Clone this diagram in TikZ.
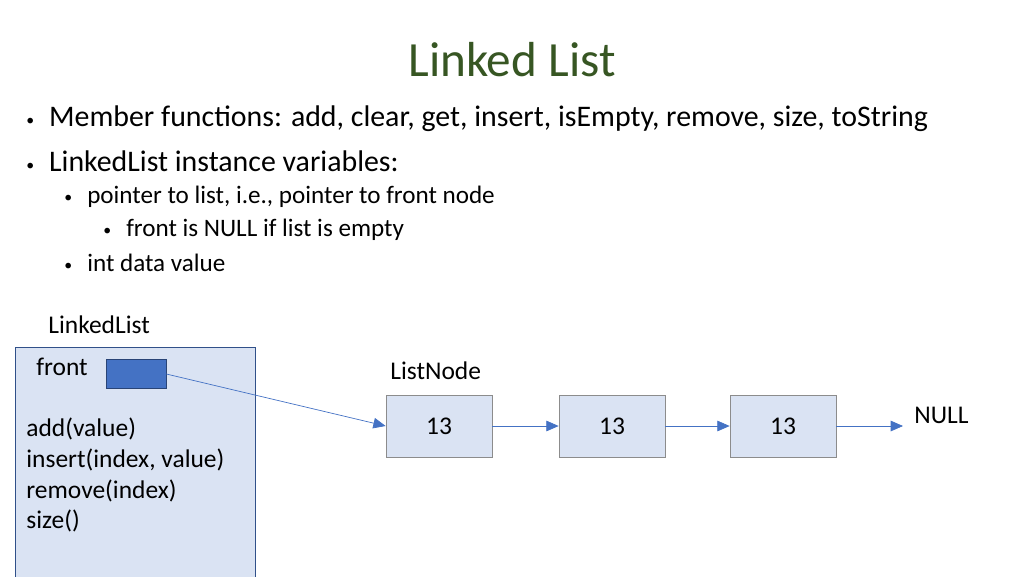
\documentclass[tikz,border=0pt]{standalone}
\usepackage{fontspec}
\setmainfont{Carlito}
\usetikzlibrary{arrows.meta,positioning}
\definecolor{titlegreen}{HTML}{375623}
\definecolor{boxfill}{HTML}{DAE3F3}
\definecolor{linkblue}{HTML}{4472C4}
\newcommand{\blt}{{\fontsize{9}{9}\selectfont\raisebox{0.15ex}{\textbullet}}}
\tikzset{
    >={Triangle[length=7pt,width=6pt]},
    txt/.style={anchor=west,inner sep=0pt,font=\fontsize{14.5}{17}\selectfont},
    big/.style={anchor=west,inner sep=0pt,font=\fontsize{17}{20}\selectfont},
    small/.style={anchor=west,inner sep=0pt,font=\fontsize{14.3}{17}\selectfont},
    listnode/.style={draw=black!45,fill=boxfill,minimum width=2.12cm,minimum height=1.24cm,inner sep=0pt,font=\fontsize{14.5}{17}\selectfont},
    link/.style={->,draw=linkblue,thin},
}
\begin{document}
\begin{tikzpicture}[x=0.02cm,y=-0.02cm]
    \useasboundingbox (0,0) rectangle (1024,576);
    \node[titlegreen,font=\fontsize{28}{33}\selectfont] (title) at (512,60) {Linked List};

    \node[big] (b1) at (26,119) {\blt\hspace{0.5em}Member functions: add, clear, get, insert, isEmpty, remove, size, toString};
    \node[big] (b2) at (26,161) {\blt\hspace{0.5em}LinkedList instance variables:};
    \node[small] (s1) at (64,197) {\blt\hspace{0.6em}pointer to list, i.e., pointer to front node};
    \node[small] (s2) at (103,230) {\blt\hspace{0.6em}front is NULL if list is empty};
    \node[small] (s3) at (64,263) {\blt\hspace{0.6em}int data value};

    \node[txt] (lllabel) at (48,325) {LinkedList};
    \draw[draw=linkblue!70!black,fill=boxfill] (15,347) rectangle (255,580);
    \node[txt] (front) at (36,367) {front};
    \node[draw=linkblue!60!black,fill=linkblue,minimum width=1.2cm,minimum height=0.58cm,inner sep=0pt] (ptr) at (136,374) {};
    \node[txt] (m1) at (26,429) {add(value)};
    \node[txt] (m2) at (26,460) {insert(index, value)};
    \node[txt] (m3) at (26,491) {remove(index)};
    \node[txt] (m4) at (26,521) {size()};

    \node[txt] (lnlabel) at (390,371) {ListNode};
    \node[listnode] (n1) at (439,426) {13};
    \node[listnode] (n2) at (612,426) {13};
    \node[listnode] (n3) at (783,426) {13};
    \coordinate (nullend) at (903,426);
    \node[txt] (null) at (914,415) {NULL};

    \draw[link] (ptr.east) -- (n1.west);
    \draw[link] (n1) -- (n2);
    \draw[link] (n2) -- (n3);
    \draw[link] (n3) -- (nullend);
\end{tikzpicture}
\end{document}
